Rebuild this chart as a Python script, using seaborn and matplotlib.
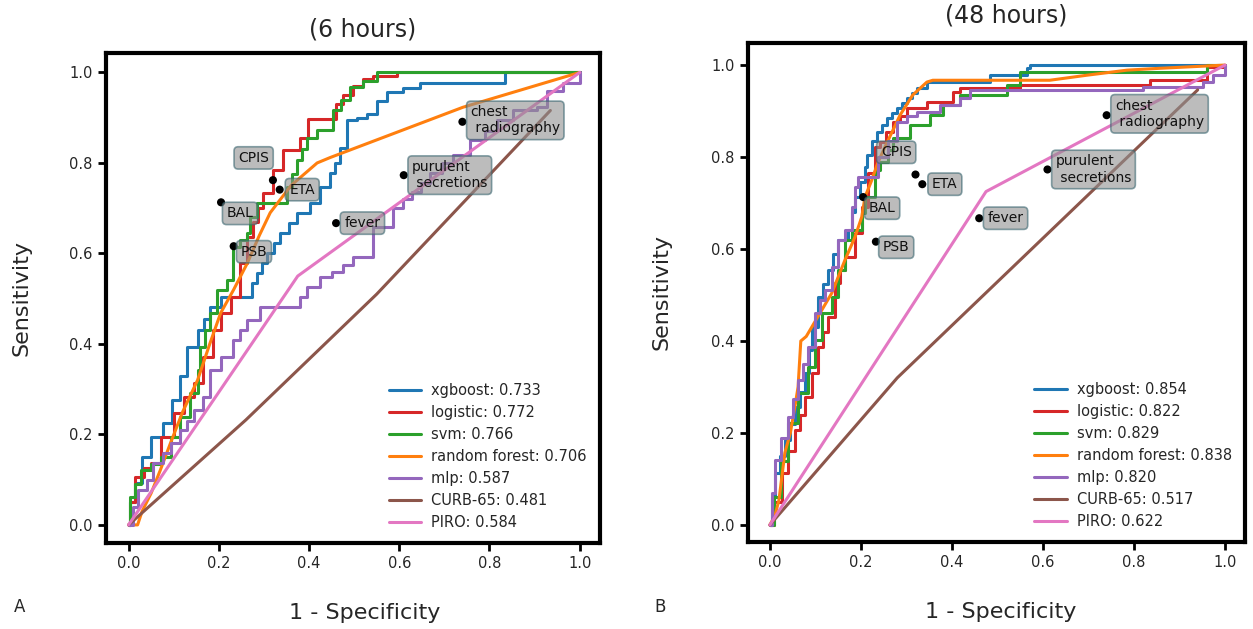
import numpy as np
import pandas as pd
import matplotlib
matplotlib.use("Agg")
import matplotlib.pyplot as plt
import seaborn as sns

# ---------------- data ----------------
model_names = ["xgboost", "logistic", "svm", "random forest", "mlp", "CURB-65", "PIRO"]
auc_6h = ["0.733", "0.772", "0.766", "0.706", "0.587", "0.481", "0.584"]
auc_48h = ["0.854", "0.822", "0.829", "0.838", "0.820", "0.517", "0.622"]

# 6 hours
xgb_fpr_6 = [0, 0.004, 0.015, 0.03, 0.049, 0.077, 0.097, 0.113, 0.13, 0.155, 0.168, 0.181, 0.204, 0.241, 0.274, 0.285, 0.296, 0.307, 0.322, 0.336, 0.355, 0.374, 0.403, 0.425, 0.447, 0.458, 0.469, 0.485, 0.507, 0.529, 0.551, 0.573, 0.608, 0.646, 0.834, 1.0]
xgb_tpr_6 = [0, 0.05, 0.093, 0.15, 0.194, 0.225, 0.276, 0.33, 0.393, 0.43, 0.455, 0.481, 0.503, 0.503, 0.534, 0.556, 0.578, 0.60, 0.622, 0.645, 0.667, 0.689, 0.711, 0.746, 0.777, 0.80, 0.834, 0.894, 0.90, 0.909, 0.938, 0.956, 0.965, 0.976, 1.0, 1.0]
log_fpr_6 = [0, 0.004, 0.015, 0.035, 0.049, 0.071, 0.1, 0.122, 0.144, 0.166, 0.188, 0.204, 0.226, 0.248, 0.263, 0.275, 0.288, 0.299, 0.321, 0.343, 0.381, 0.398, 0.447, 0.46, 0.475, 0.498, 0.52, 0.542, 0.595, 1.0]
log_tpr_6 = [0, 0.05, 0.106, 0.125, 0.137, 0.194, 0.247, 0.283, 0.313, 0.371, 0.43, 0.468, 0.503, 0.578, 0.636, 0.67, 0.70, 0.733, 0.784, 0.828, 0.856, 0.898, 0.898, 0.93, 0.95, 0.971, 0.985, 0.993, 1.0, 1.0]
svm_fpr_6 = [0, 0.004, 0.015, 0.027, 0.05, 0.071, 0.093, 0.115, 0.137, 0.153, 0.159, 0.17, 0.181, 0.197, 0.219, 0.232, 0.248, 0.263, 0.27, 0.285, 0.336, 0.352, 0.363, 0.374, 0.385, 0.396, 0.418, 0.447, 0.454, 0.47, 0.491, 0.52, 0.551, 1.0]
svm_tpr_6 = [0, 0.062, 0.09, 0.121, 0.135, 0.15, 0.194, 0.238, 0.291, 0.342, 0.393, 0.43, 0.468, 0.519, 0.541, 0.614, 0.63, 0.645, 0.68, 0.711, 0.711, 0.746, 0.775, 0.806, 0.83, 0.856, 0.872, 0.872, 0.916, 0.94, 0.967, 0.982, 1.0, 1.0]
rf_fpr_6 = [0, 0.02, 0.03, 0.05, 0.07, 0.093, 0.12, 0.153, 0.18, 0.204, 0.233, 0.263, 0.29, 0.314, 0.36, 0.418, 0.447, 0.741, 1.0]
rf_tpr_6 = [0, 0.0, 0.03, 0.07, 0.12, 0.181, 0.25, 0.32, 0.40, 0.468, 0.52, 0.578, 0.64, 0.69, 0.75, 0.80, 0.812, 0.923, 1.0]
mlp_fpr_6 = [0, 0.01, 0.02, 0.04, 0.055, 0.077, 0.095, 0.115, 0.13, 0.144, 0.166, 0.181, 0.204, 0.232, 0.248, 0.263, 0.292, 0.365, 0.38, 0.396, 0.425, 0.45, 0.475, 0.498, 0.542, 0.586, 0.608, 0.628, 0.648, 0.668, 0.695, 0.719, 0.757, 0.79, 0.816, 0.852, 0.905, 0.927, 0.962, 1.0]
mlp_tpr_6 = [0, 0.04, 0.077, 0.1, 0.137, 0.159, 0.18, 0.21, 0.23, 0.254, 0.283, 0.342, 0.371, 0.408, 0.43, 0.453, 0.481, 0.481, 0.503, 0.525, 0.547, 0.56, 0.575, 0.592, 0.658, 0.70, 0.72, 0.735, 0.755, 0.777, 0.80, 0.817, 0.85, 0.87, 0.894, 0.916, 0.923, 0.96, 0.976, 1.0]
curb_fpr_6 = [0, 0.26, 0.55, 0.935]
curb_tpr_6 = [0, 0.232, 0.51, 0.916]
piro_fpr_6 = [0, 0.375, 1.0]
piro_tpr_6 = [0, 0.55, 1.0]

# 48 hours
xgb_fpr_48 = [0, 0.005, 0.011, 0.022, 0.033, 0.044, 0.055, 0.066, 0.077, 0.085, 0.092, 0.105, 0.116, 0.127, 0.138, 0.149, 0.171, 0.18, 0.187, 0.198, 0.209, 0.213, 0.224, 0.235, 0.246, 0.257, 0.268, 0.279, 0.29, 0.301, 0.312, 0.323, 0.345, 0.477, 0.484, 0.543, 0.565, 0.571, 1.0]
xgb_tpr_48 = [0, 0.06, 0.113, 0.15, 0.185, 0.22, 0.257, 0.29, 0.33, 0.38, 0.43, 0.496, 0.525, 0.554, 0.59, 0.62, 0.641, 0.68, 0.713, 0.745, 0.778, 0.804, 0.835, 0.854, 0.87, 0.885, 0.895, 0.907, 0.917, 0.928, 0.94, 0.95, 0.963, 0.963, 0.978, 0.978, 0.993, 1.0, 1.0]
log_fpr_48 = [0, 0.01, 0.026, 0.04, 0.055, 0.066, 0.077, 0.092, 0.105, 0.116, 0.127, 0.143, 0.155, 0.165, 0.187, 0.202, 0.215, 0.231, 0.242, 0.256, 0.27, 0.285, 0.301, 0.345, 0.402, 0.418, 0.534, 0.549, 0.807, 0.835, 0.923, 0.96, 1.0]
log_tpr_48 = [0, 0.05, 0.113, 0.16, 0.207, 0.24, 0.278, 0.33, 0.387, 0.42, 0.452, 0.526, 0.555, 0.583, 0.635, 0.691, 0.765, 0.822, 0.833, 0.855, 0.876, 0.89, 0.907, 0.92, 0.941, 0.95, 0.95, 0.957, 0.957, 0.967, 0.967, 0.996, 1.0]
svm_fpr_48 = [0, 0.01, 0.025, 0.04, 0.062, 0.084, 0.099, 0.114, 0.136, 0.149, 0.165, 0.18, 0.202, 0.209, 0.231, 0.242, 0.259, 0.27, 0.308, 0.352, 0.38, 0.418, 0.49, 0.521, 0.543, 0.549, 0.908, 0.96, 1.0]
svm_tpr_48 = [0, 0.06, 0.14, 0.222, 0.287, 0.344, 0.402, 0.461, 0.496, 0.554, 0.62, 0.641, 0.678, 0.713, 0.772, 0.79, 0.815, 0.841, 0.87, 0.891, 0.913, 0.935, 0.935, 0.957, 0.957, 0.985, 0.985, 1.0, 1.0]
rf_fpr_48 = [0, 0.011, 0.02, 0.033, 0.045, 0.055, 0.062, 0.068, 0.08, 0.105, 0.136, 0.165, 0.187, 0.202, 0.209, 0.224, 0.237, 0.253, 0.286, 0.314, 0.345, 0.358, 0.615, 0.697, 0.785, 0.857, 1.0]
rf_tpr_48 = [0, 0.02, 0.054, 0.157, 0.2, 0.257, 0.3, 0.40, 0.41, 0.452, 0.504, 0.576, 0.626, 0.67, 0.713, 0.75, 0.787, 0.822, 0.891, 0.935, 0.963, 0.967, 0.967, 0.978, 0.989, 0.993, 1.0]
mlp_fpr_48 = [0, 0.005, 0.011, 0.025, 0.04, 0.05, 0.062, 0.073, 0.084, 0.099, 0.11, 0.121, 0.136, 0.149, 0.165, 0.18, 0.187, 0.193, 0.231, 0.237, 0.259, 0.279, 0.301, 0.323, 0.374, 0.418, 0.44, 0.807, 0.82, 0.93, 0.952, 0.974, 1.0]
mlp_tpr_48 = [0, 0.07, 0.141, 0.19, 0.235, 0.275, 0.315, 0.35, 0.387, 0.461, 0.49, 0.511, 0.561, 0.62, 0.641, 0.691, 0.735, 0.757, 0.757, 0.8, 0.835, 0.876, 0.89, 0.898, 0.913, 0.928, 0.946, 0.946, 0.952, 0.952, 0.963, 0.978, 1.0]
curb_fpr_48 = [0, 0.28, 0.94]
curb_tpr_48 = [0, 0.32, 0.946]
piro_fpr_48 = [0, 0.475, 1.0]
piro_tpr_48 = [0, 0.725, 1.0]

# clinical criteria points (same in both panels)
crit_names = ["CPIS", "ETA", "BAL", "PSB", "fever", "chest\n radiography", "purulent\n secretions"]
crit_fpr = [0.32, 0.335, 0.205, 0.233, 0.46, 0.74, 0.61]
crit_tpr = [0.762, 0.741, 0.713, 0.616, 0.667, 0.891, 0.773]

# ---------------- styling ----------------
sns.set_style("white")
plt.rcParams["font.family"] = ["DejaVu Sans"]

colors = ["#1f77b4", "#d62728", "#2ca02c", "#ff7f0e", "#9467bd", "#8c564b", "#e377c2"]
steps = [True, True, True, False, True, False, False]
label_offsets = [(-25, 16), (7, 0), (4, -8), (5, -4), (6, 0), (6, 1), (6, 0)]

fig = plt.figure(figsize=(12.53, 6.29), dpi=100)
W, H = 1253, 629
ax1 = fig.add_axes([106 / W, 1 - 543 / H, (600 - 106) / W, (543 - 53) / H])
ax2 = fig.add_axes([748 / W, 1 - 542 / H, (1245 - 748) / W, (542 - 43) / H])

panels = [
    (ax1, "(6 hours)", auc_6h,
     [(xgb_fpr_6, xgb_tpr_6), (log_fpr_6, log_tpr_6), (svm_fpr_6, svm_tpr_6), (rf_fpr_6, rf_tpr_6),
      (mlp_fpr_6, mlp_tpr_6), (curb_fpr_6, curb_tpr_6), (piro_fpr_6, piro_tpr_6)],
     (-0.05, 1.045), (-0.04, 1.043), 12),
    (ax2, "(48 hours)", auc_48h,
     [(xgb_fpr_48, xgb_tpr_48), (log_fpr_48, log_tpr_48), (svm_fpr_48, svm_tpr_48), (rf_fpr_48, rf_tpr_48),
      (mlp_fpr_48, mlp_tpr_48), (curb_fpr_48, curb_tpr_48), (piro_fpr_48, piro_tpr_48)],
     (-0.048, 1.044), (-0.037, 1.048), 15),
]

for ax, title, aucs, curves, xl, yl, tpad in panels:
    for i, (fpr, tpr) in enumerate(curves):
        df = pd.DataFrame({"fpr": fpr, "tpr": tpr})
        kw = {"drawstyle": "steps-post"} if steps[i] else {}
        sns.lineplot(data=df, x="fpr", y="tpr", ax=ax, color=colors[i], lw=2.2,
                     sort=False, estimator=None, label=f"{model_names[i]}: {aucs[i]}", **kw)
    sns.scatterplot(x=crit_fpr, y=crit_tpr, ax=ax, color="black", s=34, zorder=5,
                    edgecolor="none", legend=False)
    for name, fx, fy, off in zip(crit_names, crit_fpr, crit_tpr, label_offsets):
        ax.annotate(name, xy=(fx, fy), xytext=off, textcoords="offset points",
                    ha="left", va="center", fontsize=10, color="#111111", zorder=6,
                    bbox=dict(boxstyle="round,pad=0.3", fc="#909090", ec="#3a6670", lw=1.2, alpha=0.6))
    ax.set_xlim(*xl)
    ax.set_ylim(*yl)
    ax.set_xticks([0, 0.2, 0.4, 0.6, 0.8, 1.0])
    ax.set_yticks([0, 0.2, 0.4, 0.6, 0.8, 1.0])
    ax.tick_params(axis="both", which="both", direction="out", length=6, width=2,
                   labelsize=10.5, color="black", bottom=True, left=True)
    for sp in ax.spines.values():
        sp.set_linewidth(3)
        sp.set_color("black")
    ax.set_xlabel("1 - Specificity", fontsize=16)
    ax.set_ylabel("Sensitivity", fontsize=16)
    ax.set_title(title, fontsize=17, pad=tpad, x=0.52)
    leg = ax.legend(loc="lower right", fontsize=10.5, frameon=False, labelspacing=0.48,
                    handlelength=2.2, handletextpad=0.7, borderaxespad=0.5)

ax1.yaxis.set_label_coords(-0.15, 0.5)
ax2.yaxis.set_label_coords(-0.153, 0.5)
ax1.xaxis.set_label_coords(0.524, -0.122)
ax2.xaxis.set_label_coords(0.509, -0.12)

fig.text(20 / W, 1 - 607 / H, "A", fontsize=12, ha="center", va="center")
fig.text(660 / W, 1 - 607 / H, "B", fontsize=12, ha="center", va="center")

fig.savefig("out.png", dpi=100, facecolor="white")
